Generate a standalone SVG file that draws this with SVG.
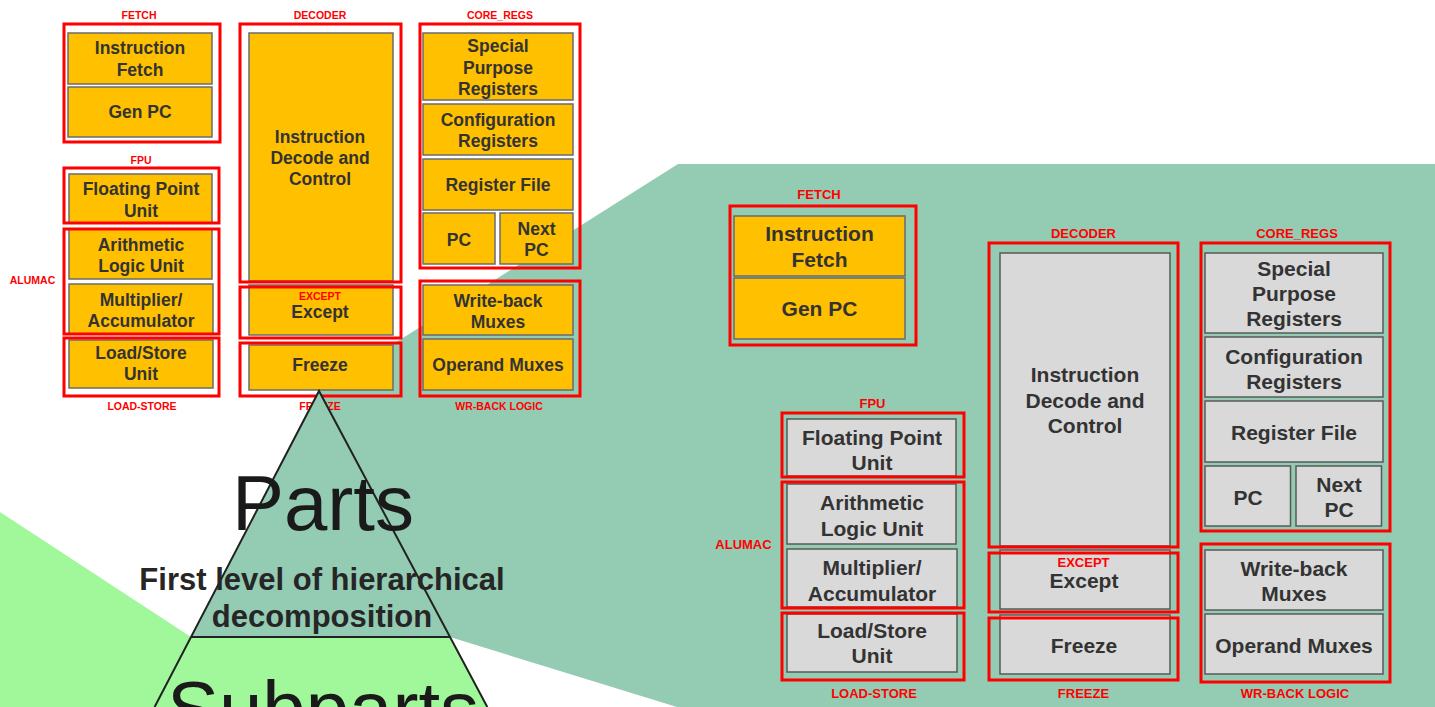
<svg xmlns="http://www.w3.org/2000/svg" width="1435" height="707" viewBox="0 0 1435 707">
  <style>
    .grp { fill: none; stroke: #ff0000; stroke-width: 3; }
    .yb { fill: #ffc000; stroke: #6b6b6b; stroke-width: 1.5; }
    .gb { fill: #d9d9d9; stroke: #5a5a5a; stroke-width: 1.5; }
    .s1 { font-family: "Liberation Sans", Arial, sans-serif; font-weight: bold; font-size: 17.5px; fill: #333333; text-anchor: middle; }
    .s2 { font-family: "Liberation Sans", Arial, sans-serif; font-weight: bold; font-size: 21px; fill: #333333; text-anchor: middle; }
    .l1 { font-family: "Liberation Sans", Arial, sans-serif; font-weight: bold; font-size: 10.5px; fill: #ff0000; text-anchor: middle; }
    .l2 { font-family: "Liberation Sans", Arial, sans-serif; font-weight: bold; font-size: 13px; fill: #ff0000; text-anchor: middle; }
    .big { font-family: "Liberation Sans", Arial, sans-serif; font-size: 78px; fill: #1a1a1a; text-anchor: middle; }
    .sub { font-family: "Liberation Sans", Arial, sans-serif; font-weight: bold; font-size: 31px; fill: #262626; text-anchor: middle; }
  </style>

  <rect width="1435" height="707" fill="#ffffff"/>

  <!-- zoom beams -->
  <g id="beams">
    <polygon points="0,512 191,637 450,637 487.3,707 0,707" fill="#a0f89b"/>
    <polygon points="319,391 678,164 1435,164 1435,707 677,707 450,637 191,637" fill="#93cbb3"/>
  </g>

  <!-- small overview: top level blocks -->
  <g id="mini-fetch">
    <text class="l1" x="139" y="19">FETCH</text>
    <rect class="yb" x="68" y="33" width="144" height="51"/>
    <text class="s1" x="140" y="54">Instruction</text>
    <text class="s1" x="140" y="76">Fetch</text>
    <rect class="yb" x="68" y="87" width="144" height="50"/>
    <text class="s1" x="140" y="118">Gen PC</text>
    <rect class="grp" x="64" y="24" width="156" height="118"/>
  </g>
  <g id="mini-decoder">
    <text class="l1" x="320" y="19">DECODER</text>
    <rect class="yb" x="249" y="33" width="144" height="248"/>
    <text class="s1" x="320" y="143">Instruction</text>
    <text class="s1" x="320" y="164">Decode and</text>
    <text class="s1" x="320" y="185">Control</text>
    <rect class="grp" x="240" y="24" width="161" height="258"/>
  </g>
  <g id="mini-except">
    <rect class="yb" x="249" y="285" width="144" height="50"/>
    <text class="l1" x="320" y="299.5">EXCEPT</text>
    <text class="s1" x="320" y="318">Except</text>
    <rect class="grp" x="240" y="287" width="161" height="51"/>
  </g>
  <g id="mini-freeze">
    <rect class="yb" x="249" y="345" width="144" height="45"/>
    <text class="s1" x="320" y="371">Freeze</text>
    <rect class="grp" x="240" y="343" width="161" height="53"/>
    <text class="l1" x="320" y="410">FREEZE</text>
  </g>
  <g id="mini-core-regs">
    <text class="l1" x="500" y="19">CORE_REGS</text>
    <rect class="yb" x="423" y="33" width="150" height="67"/>
    <text class="s1" x="498" y="52">Special</text>
    <text class="s1" x="498" y="74">Purpose</text>
    <text class="s1" x="498" y="95">Registers</text>
    <rect class="yb" x="423" y="104" width="150" height="51"/>
    <text class="s1" x="498" y="126">Configuration</text>
    <text class="s1" x="498" y="147">Registers</text>
    <rect class="yb" x="423" y="159" width="150" height="51"/>
    <text class="s1" x="498" y="191">Register File</text>
    <rect class="yb" x="423" y="213" width="72" height="51"/>
    <text class="s1" x="459" y="246">PC</text>
    <rect class="yb" x="500" y="213" width="73" height="51"/>
    <text class="s1" x="536.5" y="235">Next</text>
    <text class="s1" x="536.5" y="256">PC</text>
    <rect class="grp" x="420" y="24" width="160" height="244"/>
  </g>
  <g id="mini-wr-back">
    <rect class="yb" x="423" y="285" width="150" height="50"/>
    <text class="s1" x="498" y="307">Write-back</text>
    <text class="s1" x="498" y="328">Muxes</text>
    <rect class="yb" x="423" y="339" width="150" height="51"/>
    <text class="s1" x="498" y="371">Operand Muxes</text>
    <rect class="grp" x="420" y="281" width="160" height="115"/>
    <text class="l1" x="499" y="410">WR-BACK LOGIC</text>
  </g>
  <g id="mini-fpu">
    <text class="l1" x="141" y="164">FPU</text>
    <rect class="yb" x="69" y="174" width="143" height="49"/>
    <text class="s1" x="141" y="195">Floating Point</text>
    <text class="s1" x="141" y="217">Unit</text>
    <rect class="grp" x="64" y="168" width="155" height="55"/>
  </g>
  <g id="mini-alumac">
    <text class="l1" x="32.5" y="284">ALUMAC</text>
    <rect class="yb" x="69" y="229" width="143" height="50"/>
    <text class="s1" x="141" y="251">Arithmetic</text>
    <text class="s1" x="141" y="272">Logic Unit</text>
    <rect class="yb" x="69" y="284" width="144" height="50"/>
    <text class="s1" x="141" y="306">Multiplier/</text>
    <text class="s1" x="141" y="327">Accumulator</text>
    <rect class="grp" x="64" y="229" width="155" height="105"/>
  </g>
  <g id="mini-load-store">
    <rect class="yb" x="69" y="340" width="144" height="48"/>
    <text class="s1" x="141" y="359">Load/Store</text>
    <text class="s1" x="141" y="380">Unit</text>
    <rect class="grp" x="64" y="338" width="155" height="58"/>
    <text class="l1" x="142" y="410">LOAD-STORE</text>
  </g>

  <!-- hierarchy pyramid -->
  <g id="pyramid">
    <polygon points="319,391 191,637 450,637" fill="#93cbb3"/>
    <path d="M154.6,707 L319,391 L487.3,707 M191,637 L450,637" fill="none" stroke="#222222" stroke-width="2"/>
    <text class="big" x="323" y="530">Parts</text>
    <text class="sub" x="322" y="590">First level of hierarchical</text>
    <text class="sub" x="322" y="627">decomposition</text>
    <text class="big" x="323" y="736">Subparts</text>
  </g>

  <!-- enlarged view -->
  <g id="fetch">
    <text class="l2" x="819" y="199">FETCH</text>
    <rect class="yb" x="734" y="216" width="171" height="60"/>
    <text class="s2" x="819.5" y="241">Instruction</text>
    <text class="s2" x="819.5" y="267">Fetch</text>
    <rect class="yb" x="734" y="278" width="171" height="61"/>
    <text class="s2" x="819.5" y="316">Gen PC</text>
    <rect class="grp" x="730" y="206" width="186" height="139"/>
  </g>
  <g id="decoder">
    <text class="l2" x="1083.5" y="238">DECODER</text>
    <rect class="gb" x="1000" y="253" width="170" height="293"/>
    <text class="s2" x="1085" y="382">Instruction</text>
    <text class="s2" x="1085" y="408">Decode and</text>
    <text class="s2" x="1085" y="433">Control</text>
    <rect class="grp" x="989" y="243" width="189" height="304"/>
  </g>
  <g id="except">
    <rect class="gb" x="1000" y="550" width="170" height="59"/>
    <text class="l2" x="1083.5" y="566.5">EXCEPT</text>
    <text class="s2" x="1084" y="588">Except</text>
    <rect class="grp" x="989" y="553" width="189" height="59"/>
  </g>
  <g id="freeze">
    <rect class="gb" x="1000" y="615" width="170" height="59"/>
    <text class="s2" x="1084" y="653">Freeze</text>
    <rect class="grp" x="989" y="618" width="189" height="62"/>
    <text class="l2" x="1083.5" y="698">FREEZE</text>
  </g>
  <g id="core-regs">
    <text class="l2" x="1297" y="238">CORE_REGS</text>
    <rect class="gb" x="1205" y="253" width="178" height="80"/>
    <text class="s2" x="1294" y="276">Special</text>
    <text class="s2" x="1294" y="301">Purpose</text>
    <text class="s2" x="1294" y="326">Registers</text>
    <rect class="gb" x="1205" y="337" width="178" height="60"/>
    <text class="s2" x="1294" y="364">Configuration</text>
    <text class="s2" x="1294" y="389">Registers</text>
    <rect class="gb" x="1205" y="401" width="178" height="61"/>
    <text class="s2" x="1294" y="440">Register File</text>
    <rect class="gb" x="1205" y="466" width="85.5" height="60"/>
    <text class="s2" x="1248" y="505">PC</text>
    <rect class="gb" x="1296" y="466" width="85.5" height="60"/>
    <text class="s2" x="1339" y="492">Next</text>
    <text class="s2" x="1339" y="517">PC</text>
    <rect class="grp" x="1201" y="243" width="189" height="288"/>
  </g>
  <g id="wr-back">
    <rect class="gb" x="1205" y="550" width="178" height="60"/>
    <text class="s2" x="1294" y="576">Write-back</text>
    <text class="s2" x="1294" y="601">Muxes</text>
    <rect class="gb" x="1205" y="614" width="178" height="60"/>
    <text class="s2" x="1294" y="653">Operand Muxes</text>
    <rect class="grp" x="1201" y="544" width="189" height="138"/>
    <text class="l2" x="1295" y="698">WR-BACK LOGIC</text>
  </g>
  <g id="fpu">
    <text class="l2" x="872.5" y="408">FPU</text>
    <rect class="gb" x="787" y="419" width="169" height="57"/>
    <text class="s2" x="872" y="445">Floating Point</text>
    <text class="s2" x="872" y="470">Unit</text>
    <rect class="grp" x="782" y="413" width="182" height="64"/>
  </g>
  <g id="alumac">
    <text class="l2" x="743.5" y="549">ALUMAC</text>
    <rect class="gb" x="787" y="484" width="169" height="60"/>
    <text class="s2" x="872" y="510">Arithmetic</text>
    <text class="s2" x="872" y="536">Logic Unit</text>
    <rect class="gb" x="787" y="549" width="170" height="58"/>
    <text class="s2" x="872" y="575">Multiplier/</text>
    <text class="s2" x="872" y="601">Accumulator</text>
    <rect class="grp" x="782" y="482" width="182" height="126"/>
  </g>
  <g id="load-store">
    <rect class="gb" x="787" y="614" width="170" height="58"/>
    <text class="s2" x="872" y="638">Load/Store</text>
    <text class="s2" x="872" y="663">Unit</text>
    <rect class="grp" x="782" y="613" width="182" height="67"/>
    <text class="l2" x="874" y="698">LOAD-STORE</text>
  </g>
</svg>
